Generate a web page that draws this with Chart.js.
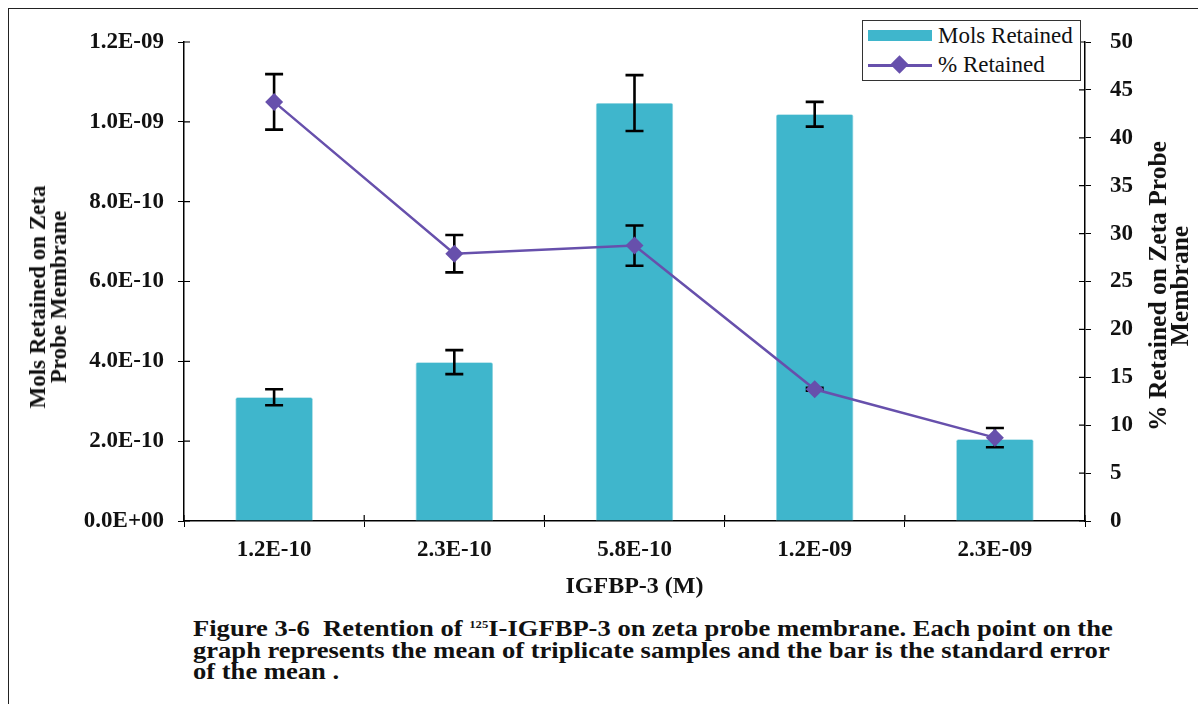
<!DOCTYPE html>
<html>
<head>
<meta charset="utf-8">
<script src="https://cdn.jsdelivr.net/npm/chart.js@4/dist/chart.umd.min.js"></script>
<style>
  body { margin: 0; background: #fff; }
  #page { position: relative; width: 1198px; height: 704px; overflow: hidden; }
  #frame { position: absolute; left: 8px; top: 8px; right: -2px; bottom: -2px;
           border-top: 1.5px solid #222; border-left: 1.5px solid #222; }
  #wrap { position: absolute; left: 0; top: 0; width: 1198px; height: 610px; }
  .ytitle { position: absolute; transform: translate(-50%, -50%) rotate(-90deg);
            font-family: "Liberation Serif", serif; font-weight: bold; font-size: 23px;
            line-height: 21px; text-align: center; white-space: nowrap; color: #111; }
  #legend { position: absolute; left: 862px; top: 20px; width: 217px; height: 59px;
            border: 1.5px solid #333; background: #fff;
            font-family: "Liberation Serif", serif; font-size: 23px; color: #111; }
  #legend .row { position: absolute; left: 0; height: 28px; display: flex; align-items: center; white-space: nowrap; }
  #legend .sw { width: 64px; height: 28px; position: relative; margin-left: 5px; margin-right: 6px; }
  #caption { position: absolute; left: 193px; top: 614px; width: 1000px; white-space: nowrap;
             font-family: "Liberation Serif", serif; font-weight: bold; font-size: 23px;
             line-height: 21.5px; color: #111; transform: scaleX(1.155); transform-origin: left top; }
  #caption sup { font-size: 11px; vertical-align: 8px; }
</style>
</head>
<body>
<div id="page">
  <div id="frame"></div>
  <div id="wrap"><canvas id="chart" width="1198" height="610"></canvas></div>
  <div class="ytitle" style="left:48px; top:297px">Mols Retained on Zeta<br>Probe Membrane</div>
  <div class="ytitle" style="left:1169px; top:286px; font-size:25.5px; line-height:22px">% Retained on Zeta Probe<br>Membrane</div>
  <div id="legend"></div>
  <div id="caption">Figure 3-6&nbsp; Retention of <sup>125</sup>I-IGFBP-3 on zeta probe membrane. Each point on the<br>graph represents the mean of triplicate samples and the bar is the standard error<br>of the mean .</div>
</div>
<script>
// data
const categories = ['1.2E-10', '2.3E-10', '5.8E-10', '1.2E-09', '2.3E-09'];
const molsRetained = [3.1e-10, 3.98e-10, 1.047e-9, 1.019e-9, 2.05e-10];
const molsError = [0.2e-10, 0.3e-10, 0.7e-10, 0.31e-10, 0];
const pctRetained = [43.75, 27.9, 28.75, 13.75, 8.7];
const pctError = [2.9, 1.95, 2.1, 0.15, 1.0];
const leftTicks = ['0.0E+00', '2.0E-10', '4.0E-10', '6.0E-10', '8.0E-10', '1.0E-09', '1.2E-09'];
const rightTicks = ['0', '5', '10', '15', '20', '25', '30', '35', '40', '45', '50'];

const barColor = '#3fb6cc';
const lineColor = '#6750ac';
const tickFont = { family: 'Liberation Serif', size: 23, weight: 'bold' };
const titleFont = { family: 'Liberation Serif', size: 24, weight: 'bold' };

// error bars (drawn after the bars, under the line) + inner tick marks
const errorBars = {
    id: 'errorBars',
    beforeDatasetDraw(chart, args) {
        if (args.index !== 0) return;
        const { ctx, scales } = chart;
        const x = scales.x;
        ctx.save();
        ctx.strokeStyle = '#000';
        ctx.lineWidth = 2.6;
        const cap = 9;
        const draw = (cx, y1, y2) => {
            ctx.beginPath();
            ctx.moveTo(cx, y1); ctx.lineTo(cx, y2);
            ctx.moveTo(cx - cap, y1); ctx.lineTo(cx + cap, y1);
            ctx.moveTo(cx - cap, y2); ctx.lineTo(cx + cap, y2);
            ctx.stroke();
        };
        categories.forEach((c, i) => {
            const cx = x.getPixelForValue(i);
            if (molsError[i] > 0)
                draw(cx, scales.y.getPixelForValue(molsRetained[i] + molsError[i]),
                     scales.y.getPixelForValue(molsRetained[i] - molsError[i]));
            if (pctError[i] > 0)
                draw(cx, scales.y2.getPixelForValue(pctRetained[i] + pctError[i]),
                     scales.y2.getPixelForValue(pctRetained[i] - pctError[i]));
        });
        ctx.restore();
    },
    afterDraw(chart) {
        const { ctx, scales, chartArea } = chart;
        ctx.save();
        ctx.strokeStyle = '#000';
        ctx.lineWidth = 1.2;
        ctx.beginPath();
        scales.y.ticks.forEach((t, i) => {
            const py = scales.y.getPixelForTick(i);
            ctx.moveTo(chartArea.left, py); ctx.lineTo(chartArea.left + 6, py);
        });
        scales.y2.ticks.forEach((t, i) => {
            const py = scales.y2.getPixelForTick(i);
            ctx.moveTo(chartArea.right, py); ctx.lineTo(chartArea.right - 6, py);
        });
        for (let i = 0; i <= categories.length; i++) {
            const px = chartArea.left + (chartArea.right - chartArea.left) * i / categories.length;
            ctx.moveTo(px, chartArea.bottom); ctx.lineTo(px, chartArea.bottom - 6);
        }
        ctx.stroke();
        ctx.restore();
    }
};

const chart = new Chart(document.getElementById('chart'), {
    type: 'bar',
    data: {
        labels: categories,
        datasets: [{
            type: 'line',
            label: '% Retained',
            data: pctRetained,
            yAxisID: 'y2',
            borderColor: lineColor,
            backgroundColor: lineColor,
            borderWidth: 2.5,
            pointStyle: 'rectRot',
            pointRadius: 9,
            pointBorderWidth: 0,
            tension: 0,
            order: 0
        }, {
            label: 'Mols Retained',
            data: molsRetained,
            yAxisID: 'y',
            backgroundColor: barColor,
            borderColor: '#8fd3df',
            borderWidth: 0.8,
            borderRadius: 2,
            borderSkipped: 'bottom',
            categoryPercentage: 1,
            barPercentage: 0.43,
            order: 1
        }]
    },
    options: {
        responsive: false,
        animation: false,
        layout: { padding: { left: 26, right: 8, top: 42, bottom: 0 } },
        plugins: { legend: { display: false }, tooltip: { enabled: false } },
        scales: {
            x: {
                grid: { display: true, drawOnChartArea: false, color: '#000', tickLength: 6, offset: true },
                border: { color: '#000', width: 1.5 },
                ticks: { font: tickFont, color: '#111', padding: 9 },
                title: { display: true, text: 'IGFBP-3 (M)', font: titleFont, color: '#111', padding: { top: 0, bottom: 9 } },
                afterFit: s => { s.height = 89; }
            },
            y: {
                position: 'left',
                min: 0, max: 1.2e-9,
                ticks: {
                    stepSize: 2e-10, font: tickFont, color: '#111', padding: 14,
                    callback: (v, i) => leftTicks[i]
                },
                grid: { drawOnChartArea: false, color: '#000', tickLength: 6 },
                border: { color: '#000', width: 1.5 },
                afterFit: s => { s.width = 184 - 26; }
            },
            y2: {
                position: 'right',
                min: 0, max: 50,
                ticks: {
                    stepSize: 5, font: tickFont, color: '#111', padding: 19,
                    callback: (v, i) => rightTicks[i]
                },
                grid: { drawOnChartArea: false, color: '#000', tickLength: 6 },
                border: { color: '#000', width: 1.5 },
                afterFit: s => { s.width = 1190 - 1085; }
            }
        }
    },
    plugins: [errorBars]
});

// legend built from the datasets
const legend = document.getElementById('legend');
const bar = chart.data.datasets[1], line = chart.data.datasets[0];
legend.innerHTML =
    '<div class="row" style="top:1px"><div class="sw"><div style="position:absolute;left:0;top:8px;width:64px;height:11px;background:' + bar.backgroundColor + '"></div></div>' + bar.label + '</div>' +
    '<div class="row" style="top:30px"><div class="sw"><div style="position:absolute;left:0;top:13px;width:64px;height:2.5px;background:' + line.borderColor + '"></div>' +
    '<div style="position:absolute;left:25px;top:7px;width:13px;height:13px;transform:rotate(45deg);background:' + line.backgroundColor + '"></div></div>' + line.label + '</div>';
</script>
</body>
</html>
